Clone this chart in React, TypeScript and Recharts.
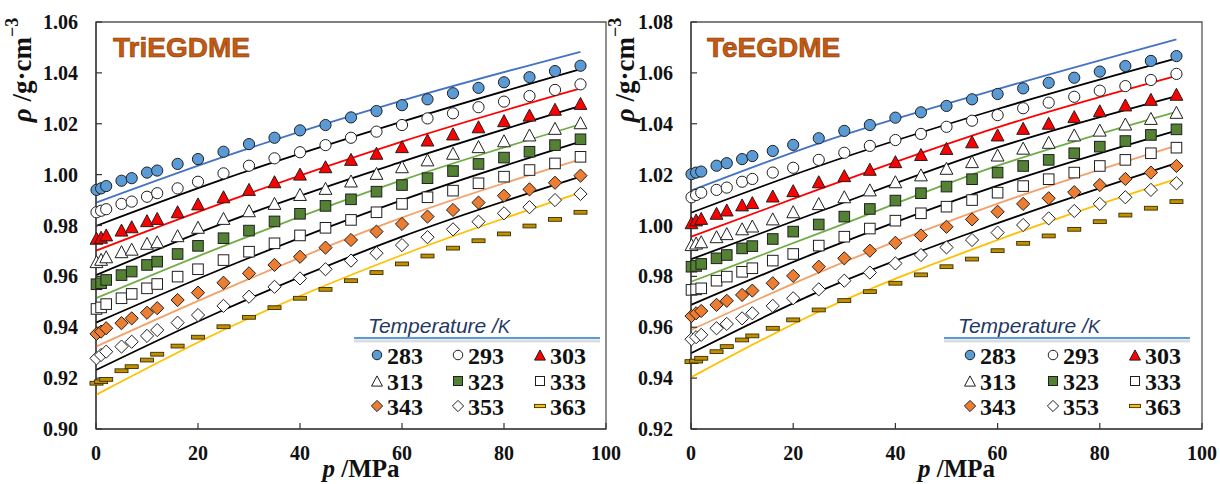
import {
  ComposedChart,
  Legend,
  Line,
  ReferenceArea,
  Scatter,
  XAxis,
  YAxis,
} from "recharts";

// pressures (MPa) of the measured points
const PRESSURES = [0.1, 1, 2, 5, 7, 10, 12, 16, 20, 25, 30, 35, 40, 45, 50, 55, 60, 65, 70, 75, 80, 85, 90, 95];
const TEMPS = [283, 293, 303, 313, 323, 333, 343, 353, 363];
const FIT_P = [0, 25, 60, 95];
const X_TICKS = [0, 20, 40, 60, 80, 100];
const TRI_Y_TICKS = [0.9, 0.92, 0.94, 0.96, 0.98, 1.0, 1.02, 1.04, 1.06];
const TET_Y_TICKS = [0.92, 0.94, 0.96, 0.98, 1.0, 1.02, 1.04, 1.06, 1.08];

// TriEGDME, rho / g cm-3
const tri283 = [0.9940, 0.9946, 0.9955, 0.9976, 0.9986, 1.0008, 1.0016, 1.0042, 1.0061, 1.0090, 1.0120, 1.0145, 1.0174, 1.0195, 1.0225, 1.0250, 1.0273, 1.0296, 1.0320, 1.0341, 1.0363, 1.0383, 1.0407, 1.0428];
const tri293 = [0.9852, 0.9858, 0.9864, 0.9885, 0.9894, 0.9913, 0.9927, 0.9946, 0.9972, 1.0005, 1.0035, 1.0064, 1.0088, 1.0116, 1.0145, 1.0169, 1.0195, 1.0221, 1.0241, 1.0265, 1.0287, 1.0309, 1.0333, 1.0355];
const tri303 = [0.9750, 0.9754, 0.9763, 0.9782, 0.9795, 0.9819, 0.9828, 0.9854, 0.9885, 0.9913, 0.9942, 0.9972, 1.0002, 1.0031, 1.0060, 1.0084, 1.0110, 1.0136, 1.0160, 1.0188, 1.0212, 1.0234, 1.0257, 1.0280];
const tri313 = [0.9658, 0.9667, 0.9677, 0.9697, 0.9707, 0.9730, 0.9736, 0.9760, 0.9793, 0.9828, 0.9858, 0.9887, 0.9922, 0.9946, 0.9975, 1.0005, 1.0031, 1.0058, 1.0084, 1.0110, 1.0133, 1.0156, 1.0182, 1.0204];
const tri323 = [0.9569, 0.9573, 0.9586, 0.9605, 0.9619, 0.9645, 0.9658, 0.9688, 0.9720, 0.9750, 0.9780, 0.9816, 0.9846, 0.9877, 0.9903, 0.9933, 0.9959, 0.9986, 1.0014, 1.0042, 1.0067, 1.0090, 1.0116, 1.0139];
const tri333 = [0.9472, 0.9478, 0.9491, 0.9514, 0.9531, 0.9553, 0.9570, 0.9599, 0.9628, 0.9664, 0.9697, 0.9730, 0.9761, 0.9791, 0.9822, 0.9852, 0.9885, 0.9911, 0.9937, 0.9966, 0.9992, 1.0018, 1.0044, 1.0070];
const tri343 = [0.9374, 0.9383, 0.9396, 0.9416, 0.9435, 0.9457, 0.9475, 0.9507, 0.9536, 0.9575, 0.9612, 0.9645, 0.9677, 0.9713, 0.9743, 0.9776, 0.9806, 0.9835, 0.9861, 0.9890, 0.9917, 0.9942, 0.9968, 0.9996];
const tri353 = [0.9278, 0.9291, 0.9304, 0.9324, 0.9343, 0.9366, 0.9389, 0.9418, 0.9448, 0.9484, 0.9520, 0.9559, 0.9592, 0.9628, 0.9662, 0.9691, 0.9723, 0.9754, 0.9785, 0.9815, 0.9848, 0.9872, 0.9900, 0.9924];
const tri363 = [0.9180, 0.9186, 0.9195, 0.9229, 0.9245, 0.9271, 0.9294, 0.9326, 0.9361, 0.9402, 0.9439, 0.9477, 0.9514, 0.9549, 0.9583, 0.9615, 0.9649, 0.9680, 0.9711, 0.9740, 0.9767, 0.9798, 0.9824, 0.9852];

// fitted curves, at FIT_P
const triFit1 = [0.9890, 1.0070, 1.0291, 1.0483];
const triFit2 = [0.9798, 0.9982, 1.0208, 1.0415];
const triFit3 = [0.9701, 0.9890, 1.0130, 1.0339];
const triFit4 = [0.9605, 0.9809, 1.0051, 1.0270];
const triFit5 = [0.9514, 0.9719, 0.9978, 1.0198];
const triFit6 = [0.9418, 0.9632, 0.9900, 1.0130];
const triFit7 = [0.9324, 0.9547, 0.9831, 1.0060];
const triFit8 = [0.9232, 0.9468, 0.9756, 0.9992];
const triFit9 = [0.9134, 0.9389, 0.9684, 0.9929];

// TeEGDME
const tet283 = [1.0202, 1.0208, 1.0212, 1.0235, 1.0245, 1.0261, 1.0273, 1.0293, 1.0317, 1.0343, 1.0372, 1.0395, 1.0424, 1.0445, 1.0470, 1.0496, 1.0517, 1.0539, 1.0561, 1.0581, 1.0605, 1.0627, 1.0647, 1.0666];
const tet293 = [1.0111, 1.0120, 1.0129, 1.0140, 1.0149, 1.0172, 1.0183, 1.0208, 1.0227, 1.0258, 1.0286, 1.0313, 1.0336, 1.0360, 1.0388, 1.0412, 1.0434, 1.0461, 1.0483, 1.0506, 1.0530, 1.0548, 1.0572, 1.0596];
const tet303 = [1.0011, 1.0022, 1.0028, 1.0048, 1.0061, 1.0081, 1.0090, 1.0116, 1.0137, 1.0172, 1.0196, 1.0221, 1.0251, 1.0279, 1.0303, 1.0329, 1.0356, 1.0382, 1.0402, 1.0428, 1.0451, 1.0474, 1.0496, 1.0516];
const tet313 = [0.9925, 0.9931, 0.9936, 0.9956, 0.9968, 0.9987, 0.9998, 1.0026, 1.0054, 1.0086, 1.0113, 1.0140, 1.0172, 1.0199, 1.0225, 1.0251, 1.0277, 1.0304, 1.0327, 1.0356, 1.0375, 1.0399, 1.0421, 1.0445];
const tet323 = [0.9838, 0.9841, 0.9849, 0.9871, 0.9884, 0.9910, 0.9919, 0.9947, 0.9976, 1.0004, 1.0035, 1.0065, 1.0098, 1.0127, 1.0153, 1.0182, 1.0208, 1.0234, 1.0258, 1.0284, 1.0310, 1.0332, 1.0356, 1.0378];
const tet333 = [0.9747, 0.9749, 0.9753, 0.9783, 0.9799, 0.9818, 0.9832, 0.9862, 0.9888, 0.9921, 0.9956, 0.9988, 1.0019, 1.0048, 1.0074, 1.0100, 1.0129, 1.0155, 1.0182, 1.0208, 1.0234, 1.0258, 1.0284, 1.0306];
const tet343 = [0.9644, 0.9655, 0.9664, 0.9688, 0.9704, 0.9727, 0.9744, 0.9773, 0.9802, 0.9838, 0.9871, 0.9901, 0.9932, 0.9961, 0.9995, 1.0024, 1.0054, 1.0085, 1.0107, 1.0131, 1.0159, 1.0183, 1.0208, 1.0234];
const tet353 = [0.9553, 0.9561, 0.9570, 0.9596, 0.9613, 0.9635, 0.9655, 0.9684, 0.9714, 0.9749, 0.9783, 0.9815, 0.9851, 0.9884, 0.9914, 0.9943, 0.9972, 1.0002, 1.0028, 1.0057, 1.0085, 1.0111, 1.0140, 1.0166];
const tet363 = [0.9465, 0.9467, 0.9478, 0.9504, 0.9524, 0.9550, 0.9566, 0.9596, 0.9629, 0.9668, 0.9705, 0.9740, 0.9773, 0.9806, 0.9838, 0.9868, 0.9901, 0.9930, 0.9959, 0.9985, 1.0015, 1.0041, 1.0068, 1.0094];

const tetFit1 = [1.0137, 1.0323, 1.0536, 1.0732];
const tetFit2 = [1.0050, 1.0234, 1.0458, 1.0657];
const tetFit3 = [0.9956, 1.0142, 1.0386, 1.0588];
const tetFit4 = [0.9867, 1.0054, 1.0307, 1.0509];
const tetFit5 = [0.9779, 0.9969, 1.0235, 1.0447];
const tetFit6 = [0.9688, 0.9897, 1.0157, 1.0373];
const tetFit7 = [0.9589, 0.9815, 1.0086, 1.0314];
const tetFit8 = [0.9498, 0.9740, 1.0009, 1.0245];
const tetFit9 = [0.9403, 0.9661, 0.9943, 1.0183];

type Kind = "circle" | "triangle" | "square" | "diamond" | "dash";

const MARKERS: { kind: Kind; fill: string }[] = [
  { kind: "circle", fill: "#5B9BD5" },
  { kind: "circle", fill: "#ffffff" },
  { kind: "triangle", fill: "#FF0000" },
  { kind: "triangle", fill: "#ffffff" },
  { kind: "square", fill: "#548235" },
  { kind: "square", fill: "#ffffff" },
  { kind: "diamond", fill: "#ED7D31" },
  { kind: "diamond", fill: "#ffffff" },
  { kind: "dash", fill: "#C09000" },
];

const FIT_COLORS = ["#4472C4", "#000000", "#FF0000", "#000000", "#70AD47", "#000000", "#F4A066", "#000000", "#FFC000"];

const SERIF = "Liberation Serif, Tinos, DejaVu Serif, serif";
const SANS = "Liberation Sans, Arial, sans-serif";

function Marker({ kind, fill, cx, cy, s = 1 }: { kind: Kind; fill: string; cx: number; cy: number; s?: number }) {
  const stroke = "#1f1f1f";
  if (kind === "circle") return <circle cx={cx} cy={cy} r={5.6 * s} fill={fill} stroke={stroke} strokeWidth={1} />;
  if (kind === "triangle") {
    const w = 6.4 * s, h = 6 * s;
    return <path d={`M${cx},${cy - h} L${cx + w},${cy + h} L${cx - w},${cy + h} Z`} fill={fill} stroke={stroke} strokeWidth={1} />;
  }
  if (kind === "square") {
    const a = 5.3 * s;
    return <rect x={cx - a} y={cy - a} width={2 * a} height={2 * a} fill={fill} stroke={stroke} strokeWidth={1} />;
  }
  if (kind === "diamond") {
    const a = 6.6 * s;
    return <path d={`M${cx},${cy - a} L${cx + a},${cy} L${cx},${cy + a} L${cx - a},${cy} Z`} fill={fill} stroke={stroke} strokeWidth={1} />;
  }
  return <rect x={cx - 6.5 * s} y={cy - 1.9 * s} width={13 * s} height={3.8 * s} fill={fill} stroke="#3a2e00" strokeWidth={0.9} />;
}

function LegendBox({ cols }: { cols: number[] }) {
  const rows = [50, 76, 101];
  return (
    <svg width={262} height={115} style={{ display: "block" }}>
      <text x={18} y={28} style={{ fontFamily: SANS, fontStyle: "italic", fontSize: 21 }} fill="#1F3864">
        Temperature /<tspan fontSize={18}>K</tspan>
      </text>
      <line x1={4} y1={36} x2={250} y2={36} stroke="#c8c8c8" strokeWidth={3} opacity={0.6} />
      <line x1={4} y1={33} x2={250} y2={33} stroke="#5B9BD5" strokeWidth={2} />
      {TEMPS.map((t, i) => {
        const cx = cols[i % 3];
        const cy = rows[Math.floor(i / 3)];
        return (
          <g key={t}>
            <Marker kind={MARKERS[i].kind} fill={i === 8 ? "#FFC000" : MARKERS[i].fill} cx={cx} cy={cy} s={0.85} />
            <text x={cx + 10} y={cy + 8.5} style={{ fontFamily: SERIF, fontWeight: 700, fontSize: 24 }} fill="#111">
              {t}
            </text>
          </g>
        );
      })}
    </svg>
  );
}

interface PanelProps {
  title: string;
  series: number[][];
  fits: number[][];
  yTicks: number[];
  left: number;
  width: number;
  marginRight: number;
  yAxisWidth: number;
  titleDx: number;
  yLabelX: number;
  legendLeft: number;
  legendCols: number[];
}

function Panel(props: PanelProps) {
  const { title, series, fits, yTicks, left, width, marginRight, yAxisWidth, titleDx, yLabelX, legendLeft, legendCols } = props;
  const pts = series.map((vals) => PRESSURES.map((p, i) => ({ p, rho: vals[i] })));
  const curves = fits.map((vals) => FIT_P.map((p, i) => ({ p, rho: vals[i] })));
  const tickStyle = { fontFamily: SERIF, fontWeight: 700, fontSize: 20, fill: "#111", style: { fontFamily: SERIF } };

  return (
    <div style={{ position: "absolute", left, top: 0 }}>
      <ComposedChart width={width} height={484} margin={{ top: 22, right: marginRight, left: 0, bottom: 0 }}>
        <XAxis
          dataKey="p"
          type="number"
          domain={[0, 100]}
          ticks={X_TICKS}
          interval={0}
          height={55}
          tickSize={-6}
          tickMargin={23}
          tick={tickStyle}
          axisLine={{ stroke: "#333", strokeWidth: 1.2 }}
          tickLine={{ stroke: "#333", strokeWidth: 1.2 }}
          label={{
            content: (lp: any) => {
              const vb = lp.viewBox || { x: 0, y: 0, width: 0 };
              return (
                <text x={vb.x + vb.width / 2 + 10} y={vb.y + 48} textAnchor="middle" style={{ fontFamily: SERIF, fontWeight: 700, fontSize: 25 }} fill="#111">
                  <tspan fontStyle="italic">p</tspan> /MPa
                </text>
              );
            },
          }}
        />
        <YAxis
          type="number"
          domain={[yTicks[0], yTicks[yTicks.length - 1]]}
          ticks={yTicks}
          interval={0}
          allowDataOverflow
          width={yAxisWidth}
          tickSize={-6}
          tickMargin={24}
          tick={tickStyle}
          tickFormatter={(v: number) => v.toFixed(2)}
          axisLine={{ stroke: "#333", strokeWidth: 1.2 }}
          tickLine={{ stroke: "#333", strokeWidth: 1.2 }}
          label={{
            content: () => (
              <text
                x={yLabelX}
                y={70}
                transform={`rotate(-90, ${yLabelX}, 70)`}
                textAnchor="middle"
                dominantBaseline="central"
                style={{ fontFamily: SERIF, fontWeight: 700, fontSize: 27 }}
                fill="#111"
              >
                <tspan fontStyle="italic">ρ</tspan> /g·cm<tspan dy={-10} fontSize={18}>−3</tspan>
              </text>
            ),
          }}
        />
        <ReferenceArea
          x1={0}
          x2={100}
          y1={yTicks[0]}
          y2={yTicks[yTicks.length - 1]}
          fill="none"
          stroke="#555"
          strokeWidth={1.3}
          label={{
            content: (lp: any) => {
              const vb = lp.viewBox || { x: 0, y: 0 };
              return (
                <text x={vb.x + titleDx} y={vb.y + 35} style={{ fontFamily: SANS, fontWeight: 700, fontSize: 28 }} fill="#C55A11" stroke="#8a3c0a" strokeWidth={0.6}>
                  {title}
                </text>
              );
            },
          }}
        />
        {curves.map((d, i) => (
          <Line
            key={"fit" + i}
            data={d}
            dataKey="rho"
            type="monotone"
            stroke={FIT_COLORS[i]}
            strokeWidth={1.8}
            dot={false}
            activeDot={false}
            isAnimationActive={false}
          />
        ))}
        {pts.map((d, i) => (
          <Scatter
            key={"pts" + i}
            data={d}
            dataKey="rho"
            isAnimationActive={false}
            shape={(sp: any) => <Marker kind={MARKERS[i].kind} fill={MARKERS[i].fill} cx={sp.cx} cy={sp.cy} />}
          />
        ))}
        <Legend
          layout="vertical"
          align="center"
          verticalAlign="middle"
          wrapperStyle={{ left: legendLeft, top: 305, width: 262, height: 115 }}
          content={() => <LegendBox cols={legendCols} />}
        />
      </ComposedChart>
    </div>
  );
}

export default function App() {
  return (
    <div style={{ position: "absolute", left: 0, top: 0, width: 1220, height: 484, background: "#fff" }}>
      <Panel
        title="TriEGDME"
        series={[tri283, tri293, tri303, tri313, tri323, tri333, tri343, tri353, tri363]}
        fits={[triFit1, triFit2, triFit3, triFit4, triFit5, triFit6, triFit7, triFit8, triFit9]}
        yTicks={TRI_Y_TICKS}
        left={0}
        width={640}
        marginRight={34}
        yAxisWidth={96}
        titleDx={17}
        yLabelX={22}
        legendLeft={350}
        legendCols={[27, 108, 190]}
      />
      <Panel
        title="TeEGDME"
        series={[tet283, tet293, tet303, tet313, tet323, tet333, tet343, tet353, tet363]}
        fits={[tetFit1, tetFit2, tetFit3, tetFit4, tetFit5, tetFit6, tetFit7, tetFit8, tetFit9]}
        yTicks={TET_Y_TICKS}
        left={590}
        width={630}
        marginRight={18}
        yAxisWidth={101}
        titleDx={16}
        yLabelX={35}
        legendLeft={350}
        legendCols={[30, 113, 195]}
      />
    </div>
  );
}
